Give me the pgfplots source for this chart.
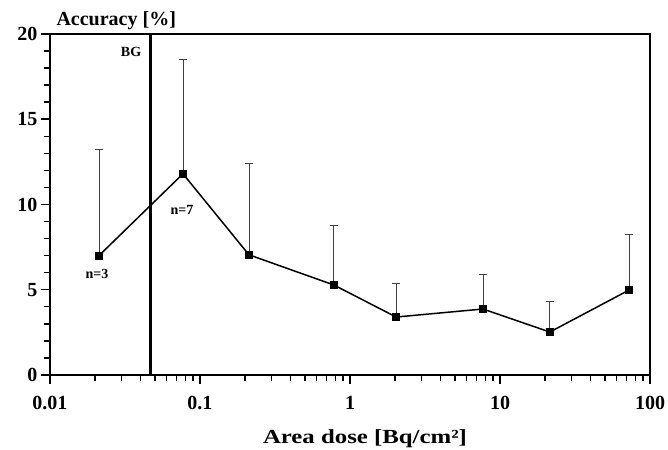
\documentclass[border=0pt]{standalone}
\usepackage{pgfplots}
\pgfplotsset{compat=1.18}
\usepackage{fontspec}
\setmainfont{Liberation Serif}
\pgfplotstableread{
x y e
0.0212 7.00 6.25
0.077 11.80 6.73
0.212 7.05 5.38
0.78 5.28 3.52
2.03 3.40 2.00
7.7 3.87 2.05
21.5 2.52 1.82
72.4 4.98 3.29
}\datatab
\begin{document}
\begin{tikzpicture}
\useasboundingbox (0pt,0pt) rectangle (668pt,449pt);
\begin{axis}[at={(50pt,74pt)}, anchor=south west, scale only axis,
  width=600pt, height=341pt,
  xmode=log, log basis x=10, xmin=0.01, xmax=100, ymin=0, ymax=20,
  xtick={0.01,0.1,1,10,100}, xticklabels={0.01,0.1,1,10,100},
  minor xtick={0.02,0.03,0.04,0.05,0.06,0.07,0.08,0.09,0.2,0.3,0.4,0.5,0.6,0.7,0.8,0.9,2,3,4,5,6,7,8,9,20,30,40,50,60,70,80,90},
  ytick={0,5,10,15,20},
  minor ytick={1,2,3,4,6,7,8,9,11,12,13,14,16,17,18,19},
  tick align=outside, xtick pos=bottom, ytick pos=left,
  major tick length=9pt, minor tick length=6pt,
  axis line style={line width=1.6pt},
  major tick style={black, line width=1.5pt},
  minor tick style={black, line width=1.4pt},
  ticklabel style={font=\fontsize{20}{22}\selectfont\bfseries},
  xticklabel style={yshift=-9pt},
  /pgf/number format/assume math mode=true,
  clip=false]
\addplot[black, line width=2.8pt] coordinates {(0.047,0) (0.047,20)};
\addplot[draw=none, forget plot, error bars/.cd, y dir=plus, y explicit,
  error bar style={black!75, line width=0.8pt},
  error mark options={black!75, line width=0.8pt, mark size=4pt, rotate=90}]
  table[x=x, y=y, y error=e] {\datatab};
\addplot[black, line width=1.5pt, mark=square*, mark size=3.3pt] table[x=x, y=y] {\datatab};
\node[font=\fontsize{14}{16}\selectfont\bfseries] at (axis cs:0.0347,18.97) {BG};
\node[font=\fontsize{14}{16}\selectfont\bfseries] at (axis cs:0.0206,5.92) {n=3};
\node[font=\fontsize{14}{16}\selectfont\bfseries] at (axis cs:0.0759,9.71) {n=7};
\node[anchor=base west, font=\fontsize{20}{22}\selectfont\bfseries] at (rel axis cs:0,1) [xshift=3pt, yshift=8pt] {Accuracy [\%]};
\node[anchor=base, font=\fontsize{20}{22}\selectfont\bfseries] at (rel axis cs:0.5,0) [xshift=15pt, yshift=-68pt] {\scalebox{1.24}[1]{Area dose [Bq/cm²]}};
\end{axis}
\end{tikzpicture}
\end{document}
